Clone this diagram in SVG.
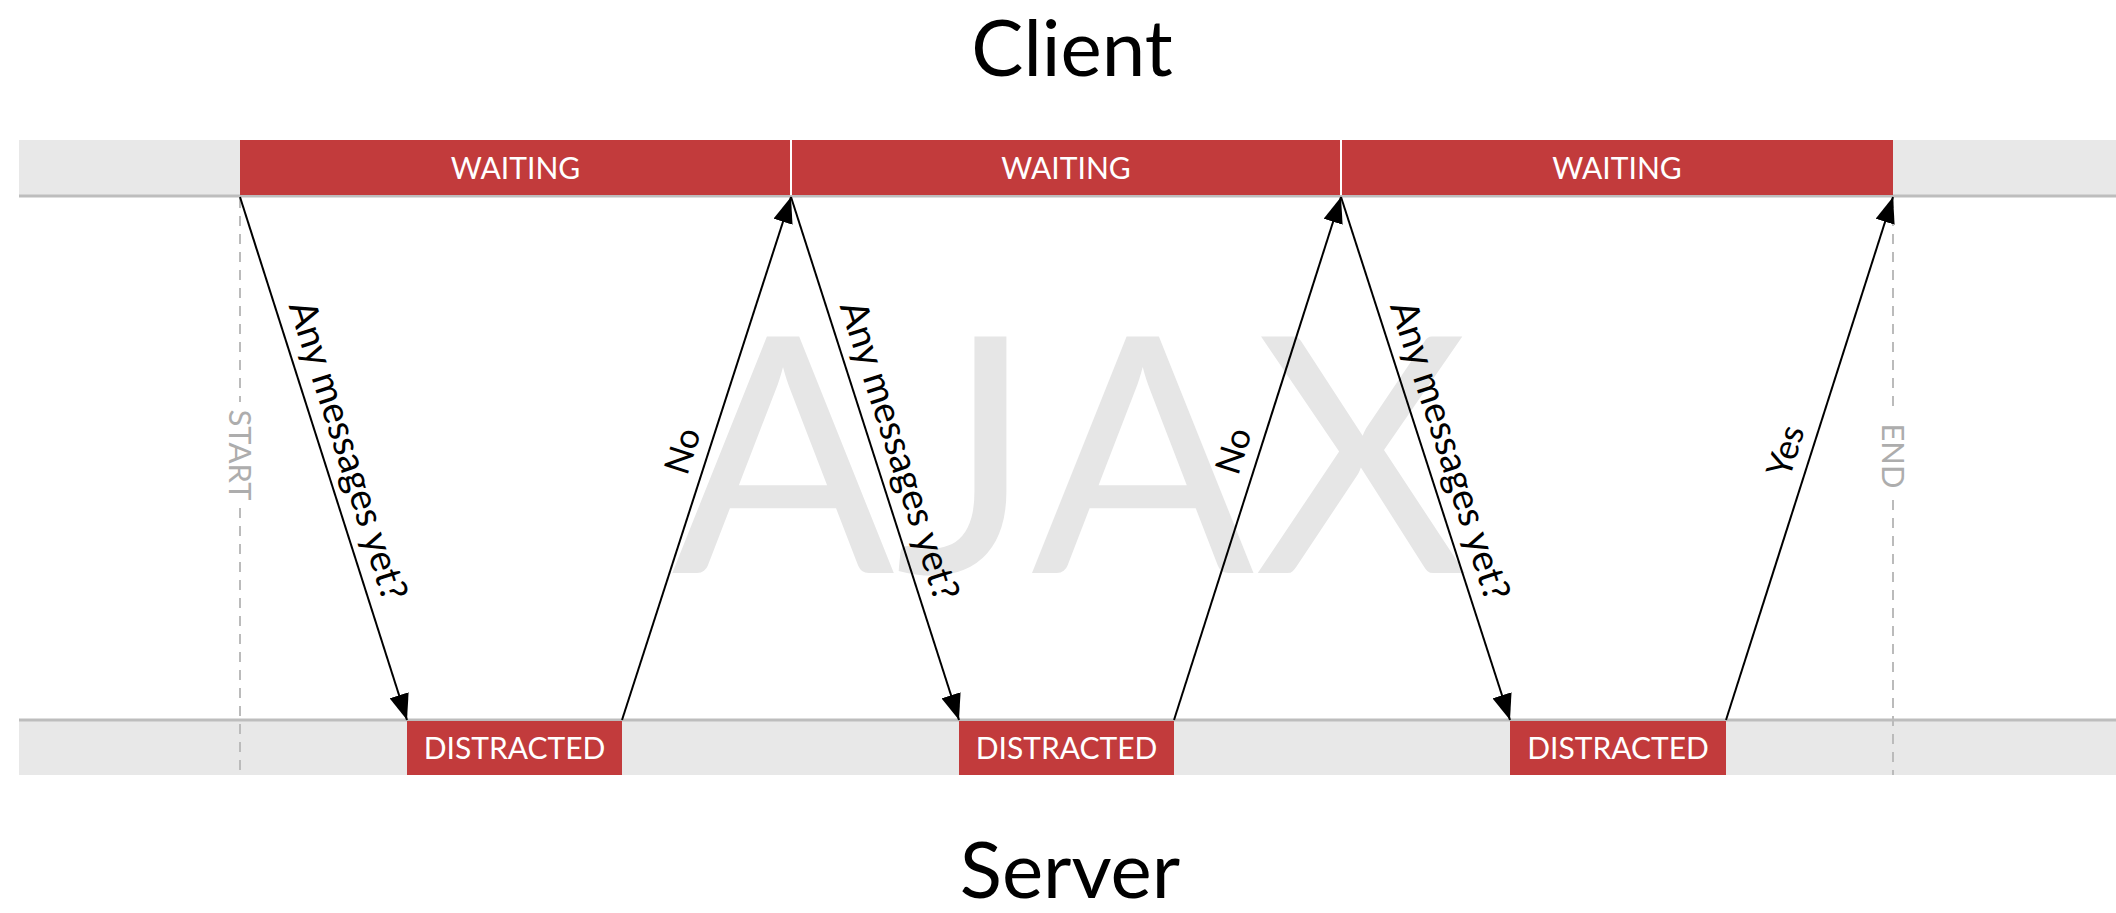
<svg xmlns="http://www.w3.org/2000/svg" width="2116" height="913" viewBox="0 0 2116 913">
<defs>
<marker id="ah" markerWidth="26" markerHeight="20" refX="26" refY="10" orient="auto" markerUnits="userSpaceOnUse">
<path d="M0,0 L26,10 L0,20 Z" fill="#000"/>
</marker>
<style>
.band{fill:#e8e8e8}
.edge{stroke:#bdbdbd;stroke-width:3}
.red{fill:#c23b3c}
.sep{stroke:#fff;stroke-width:2}
.st{fill:#fff;font-family:Lato,"Liberation Sans",sans-serif;font-size:30px;text-anchor:middle}
.arrow{stroke:#000;stroke-width:2;fill:none;marker-end:url(#ah)}
.lbl{fill:#000;font-family:Lato,"Liberation Sans",sans-serif;font-size:35px;text-anchor:middle}
.q{font-size:38px}
.dash{stroke:#bbb;stroke-width:2;stroke-dasharray:10 8;fill:none}
.mark{fill:#adadad;font-family:Lato,"Liberation Sans",sans-serif;font-size:31px;text-anchor:middle}
.title{fill:#000;font-family:Lato,"Liberation Sans",sans-serif;font-size:78px;text-anchor:middle}
</style>
</defs>
<rect width="2116" height="913" fill="#fff"/>
<g id="watermark">
<text x="1070" y="573" fill="#e6e6e6" font-family="Lato,'Liberation Sans',sans-serif" font-size="330" text-anchor="middle">AJAX</text>
</g>
<g id="titles">
<text class="title" x="1072" y="76">Client</text>
<text class="title" x="1070" y="898" font-size="76">Server</text>
</g>
<g id="client-lane">
<rect class="band" x="19" y="140" width="2097" height="56"/>
<line class="edge" x1="19" y1="196" x2="2116" y2="196"/>
</g>
<g id="server-lane">
<rect class="band" x="19" y="720" width="2097" height="55"/>
<line class="edge" x1="19" y1="720" x2="2116" y2="720"/>
</g>
<g id="markers">
<path class="dash" d="M240,198 V402 M240,508 V775"/>
<text class="mark" transform="translate(240,455) rotate(90)" y="11">START</text>
<path class="dash" d="M1893,198 V412 M1893,500 V775"/>
<text class="mark" transform="translate(1893,456) rotate(90)" y="11">END</text>
</g>
<g id="waiting-1"><rect class="red" x="240" y="140" width="551" height="55"/><text class="st" x="515.5" y="179">WAITING</text></g>
<g id="waiting-2"><rect class="red" x="791" y="140" width="550" height="55"/><text class="st" x="1066" y="179">WAITING</text></g>
<g id="waiting-3"><rect class="red" x="1341" y="140" width="552" height="55"/><text class="st" x="1617" y="179">WAITING</text></g>
<line class="sep" x1="791" y1="140" x2="791" y2="195"/>
<line class="sep" x1="1341" y1="140" x2="1341" y2="195"/>
<g id="distracted-1"><rect class="red" x="407" y="721" width="215" height="54"/><text class="st" x="514.5" y="759">DISTRACTED</text></g>
<g id="distracted-2"><rect class="red" x="959" y="721" width="215" height="54"/><text class="st" x="1066.5" y="759">DISTRACTED</text></g>
<g id="distracted-3"><rect class="red" x="1510" y="721" width="216" height="54"/><text class="st" x="1618" y="759">DISTRACTED</text></g>
<g id="connectors">
<line class="arrow" x1="240" y1="197" x2="407" y2="720"/>
<line class="arrow" x1="622" y1="720" x2="791" y2="197"/>
<line class="arrow" x1="791" y1="197" x2="959" y2="720"/>
<line class="arrow" x1="1174" y1="720" x2="1341" y2="197"/>
<line class="arrow" x1="1341" y1="197" x2="1510" y2="720"/>
<line class="arrow" x1="1726" y1="720" x2="1893" y2="197"/>
<text class="lbl q" transform="translate(323.5,458.5) rotate(72.29)" y="-13">Any messages yet?</text>
<text class="lbl" transform="translate(706.5,458.5) rotate(-72.09)" y="-13">No</text>
<text class="lbl q" transform="translate(875,458.5) rotate(72.19)" y="-13">Any messages yet?</text>
<text class="lbl" transform="translate(1257.5,458.5) rotate(-72.3)" y="-13">No</text>
<text class="lbl q" transform="translate(1425.5,458.5) rotate(72.09)" y="-13">Any messages yet?</text>
<text class="lbl" transform="translate(1809.5,458.5) rotate(-72.3)" y="-13">Yes</text>
</g>
</svg>
